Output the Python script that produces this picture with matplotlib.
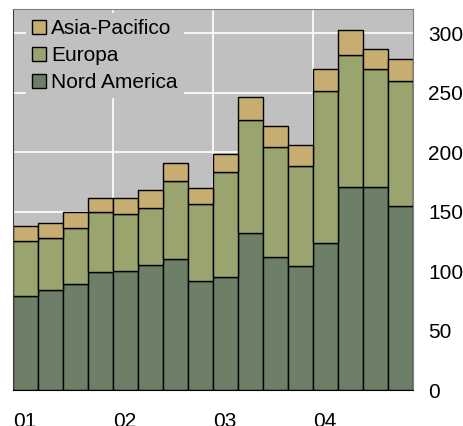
import matplotlib.pyplot as plt
import numpy as np

plt.rcParams['font.family'] = ['Liberation Sans', 'DejaVu Sans']

# quarterly revenue by region, 2001-2004
nord_america = [79, 84, 89, 99, 100, 105, 110, 92, 95, 132, 112, 104, 124, 171, 171, 155]
europa = [46, 44, 47, 51, 48, 48, 66, 64, 88, 95, 92, 84, 127, 111, 99, 105]
asia_pacific = [13, 12, 14, 11, 13, 15, 15, 14, 15, 19, 18, 18, 19, 21, 17, 18]
year_labels = ["01", "02", "03", "04"]

fig = plt.figure(figsize=(4.64, 4.26), dpi=100)
ax = fig.add_axes([0.0287, 0.0845, 0.8607, 0.8935])
ax.set_facecolor("#c0c0c0")

x = np.arange(len(nord_america))
na = np.array(nord_america)
eu = np.array(europa)
ap = np.array(asia_pacific)

kw = dict(width=1.0, align="edge", edgecolor="black", linewidth=1.0, zorder=3)
b_na = ax.bar(x, na, color="#6d7f66", label="Nord America", **kw)
b_eu = ax.bar(x, eu, bottom=na, color="#9aa46e", label="Europa", **kw)
b_ap = ax.bar(x, ap, bottom=na + eu, color="#c8ad72", label="Asia-Pacifico", **kw)

ax.set_xlim(0, 16)
ax.set_ylim(0, 320)

ax.set_yticks(range(0, 301, 50))
ax.yaxis.tick_right()
ax.tick_params(axis="y", length=0, pad=11, labelsize=15)
ax.set_xticks([0, 4, 8, 12])
ax.set_xticklabels(year_labels, ha="left")
ax.tick_params(axis="x", length=0, pad=16, labelsize=15)

ax.grid(True, color="white", linewidth=1.2, zorder=0)
ax.set_axisbelow(True)

for side in ["top", "right"]:
    ax.spines[side].set_color("#7f7f7f")
ax.spines["left"].set_color("#404040")
ax.spines["bottom"].set_color("black")
for s in ax.spines.values():
    s.set_zorder(4)

leg = ax.legend(handles=[b_ap, b_eu, b_na], loc="upper left",
                bbox_to_anchor=(0.005, 1.018), fontsize=15, frameon=True,
                facecolor="#c0c0c0", edgecolor="none", framealpha=1,
                fancybox=False, handlelength=0.67, handleheight=0.67,
                handletextpad=0.25, labelspacing=0.38, borderpad=0.3)
leg.set_zorder(5)

fig.savefig("out.png", dpi=100)
